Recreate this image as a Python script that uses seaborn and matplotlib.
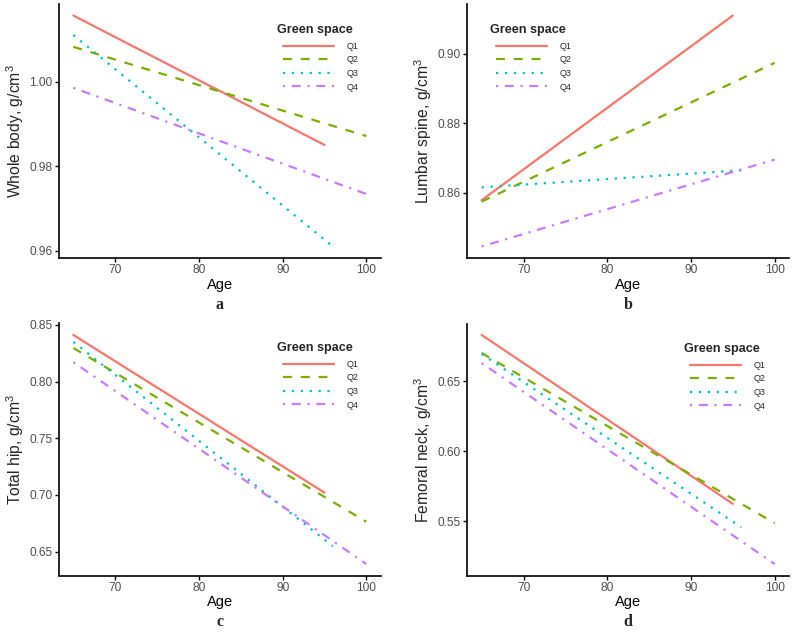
import matplotlib
matplotlib.use("Agg")
import matplotlib.pyplot as plt
import seaborn as sns
import pandas as pd

# ---- data ----
groups = ["Q1", "Q2", "Q3", "Q4"]
age_start = [65, 65, 65, 65]
age_end = [95, 100, 96, 100]

whole_body_start = [1.0156, 1.0082, 1.0110, 0.9985]
whole_body_end = [0.9850, 0.9871, 0.9610, 0.9734]

lumbar_start = [0.8579, 0.8575, 0.8616, 0.8446]
lumbar_end = [0.9110, 0.8974, 0.8665, 0.8696]

hip_start = [0.8411, 0.8296, 0.8350, 0.8171]
hip_end = [0.7020, 0.6763, 0.6547, 0.6390]

neck_start = [0.6830, 0.6701, 0.6694, 0.6629]
neck_end = [0.5624, 0.5486, 0.5457, 0.5194]

ylabels = ["Whole body, g/cm$^3$", "Lumbar spine, g/cm$^3$",
           "Total hip, g/cm$^3$", "Femoral neck, g/cm$^3$"]
letters = ["a", "b", "c", "d"]
yticks_list = [[0.96, 0.98, 1.00], [0.86, 0.88, 0.90],
               [0.65, 0.70, 0.75, 0.80, 0.85], [0.55, 0.60, 0.65]]
xticks = [70, 80, 90, 100]

palette = {"Q1": "#F8766D", "Q2": "#7CAE00", "Q3": "#00BFC4", "Q4": "#C77CFF"}
dashes = {"Q1": "", "Q2": (4, 4), "Q3": (1, 3), "Q4": (1, 3, 4, 3)}


def make_df(starts, ends):
    rows = []
    for g, a0, a1, s, e in zip(groups, age_start, age_end, starts, ends):
        rows.append({"Age": a0, "value": s, "Green space": g})
        rows.append({"Age": a1, "value": e, "Green space": g})
    return pd.DataFrame(rows)


dfs = [make_df(whole_body_start, whole_body_end),
       make_df(lumbar_start, lumbar_end),
       make_df(hip_start, hip_end),
       make_df(neck_start, neck_end)]

sns.set_style("white")
plt.rcParams["font.family"] = ["Liberation Sans", "DejaVu Sans"]
plt.rcParams["mathtext.fontset"] = "custom"
plt.rcParams["mathtext.rm"] = "Liberation Sans"
plt.rcParams["mathtext.it"] = "Liberation Sans:italic"

W, H = 795, 632
fig = plt.figure(figsize=(W / 100, H / 100), dpi=100)

# axes boxes in pixels: left, top, right, bottom
boxes = [(58.7, 4.0, 381.0, 258.0),
         (467.0, 4.0, 789.3, 258.0),
         (58.7, 323.5, 381.0, 575.5),
         (467.0, 323.5, 789.3, 575.5)]
# legend title top-left in figure pixels
leg_pos = [(277, 24), (490, 24), (277, 342), (684, 343)]

for i, (df, box) in enumerate(zip(dfs, boxes)):
    l, t, r, b = box
    ax = fig.add_axes([l / W, 1 - b / H, (r - l) / W, (b - t) / H])
    sns.lineplot(data=df, x="Age", y="value", hue="Green space",
                 style="Green space", palette=palette, dashes=dashes,
                 linewidth=1.6, ax=ax, sort=False, estimator=None)
    ax.margins(x=0.05, y=0.05)
    ax.set_xticks(xticks)
    ax.set_yticks(yticks_list[i])
    ax.set_yticklabels([f"{v:.2f}" for v in yticks_list[i]])
    for s in ["top", "right"]:
        ax.spines[s].set_visible(False)
    for s in ["left", "bottom"]:
        ax.spines[s].set_color("black")
        ax.spines[s].set_linewidth(1.2)
    ax.tick_params(axis="both", which="both", direction="out", length=3.2,
                   width=1.0, color="black", labelcolor="#4D4D4D",
                   labelsize=8.6, pad=1.2, left=True, bottom=True)
    ax.set_ylabel("")
    ax.set_xlabel("Age", fontsize=10.5, labelpad=1, color="black")
    cx = (l + r) / 2
    fig.text(cx / W, 1 - (b + 47) / H, letters[i], ha="center", va="center",
             fontsize=11.5, fontweight="bold",
             family=["Liberation Serif", "DejaVu Serif"])
    fig.text((l - 44) / W, 1 - ((t + b) / 2) / H, ylabels[i], rotation=90,
             ha="center", va="center", fontsize=11.3)

    handles, labs = ax.get_legend_handles_labels()
    lx, ly = leg_pos[i]
    leg = ax.legend(handles, labs, title="Green space", loc="upper left",
                    bbox_to_anchor=(lx / W, 1 - ly / H),
                    bbox_transform=fig.transFigure, frameon=False,
                    fontsize=6.5, handlelength=5.65, handletextpad=1.45,
                    labelspacing=0.5, borderaxespad=0, borderpad=0)
    leg.get_title().set_fontweight("bold")
    leg.get_title().set_fontsize(9.1)
    leg._legend_box.align = "left"
    leg._legend_box.sep = 0
    leg._legend_handle_box.pad = 4.3
    for ln in leg.get_lines():
        ln.set_linewidth(1.6)

fig.savefig("out.png", dpi=100)
